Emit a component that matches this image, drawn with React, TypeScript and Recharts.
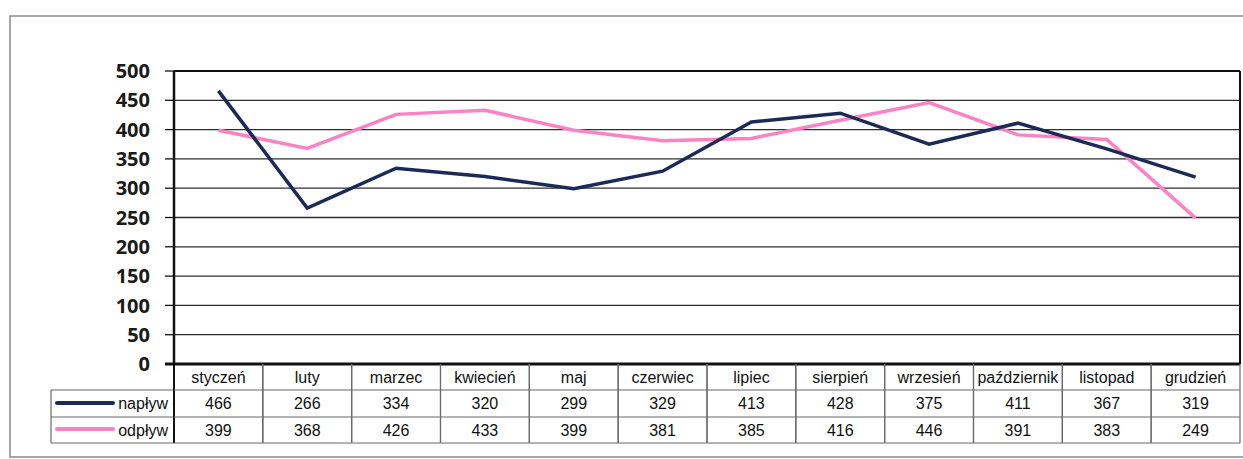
import React from "react";
import { LineChart, Line, XAxis, YAxis, CartesianGrid, Customized } from "recharts";

const months = [
  "styczeń", "luty", "marzec", "kwiecień", "maj", "czerwiec",
  "lipiec", "sierpień", "wrzesień", "październik", "listopad", "grudzień",
];
const naplyw = [466, 266, 334, 320, 299, 329, 413, 428, 375, 411, 367, 319];
const odplyw = [399, 368, 426, 433, 399, 381, 385, 416, 446, 391, 383, 249];
const yTicks = [0, 50, 100, 150, 200, 250, 300, 350, 400, 450, 500];

const NAVY = "#1c2a57";
const PINK = "#fb82c4";
const GRID = "#2e2e2e";
const TABLE_LINE = "#6a6a6a";

const W = 1243;
const H = 459;
const PLOT_LEFT = 174;
const PLOT_RIGHT = 1240;
const PLOT_TOP = 71;
const PLOT_BOTTOM = 364;
const ROW1 = 390;
const ROW2 = 417;
const ROW3 = 443;
const COL_W = (PLOT_RIGHT - PLOT_LEFT) / months.length;
const Y_AXIS_W = 60;
const X_AXIS_H = 80;

const data = months.map((m, i) => ({ month: m, naplyw: naplyw[i], odplyw: odplyw[i] }));

const TABLE_FONT = "'Liberation Sans', Arial, sans-serif";

// one column of the data table, placed by the x axis scale
const TableColumn = (props: any) => {
  const { x, payload } = props;
  const i = months.indexOf(payload.value);
  const l = x - COL_W / 2;
  const r = x + COL_W / 2;
  const txt = { fontFamily: TABLE_FONT, fontSize: 16, fill: "#111", textAnchor: "middle" as const };
  return (
    <g>
      <line x1={l} y1={PLOT_BOTTOM} x2={l} y2={ROW3} stroke={i === 0 ? "#111" : TABLE_LINE} strokeWidth={i === 0 ? 2 : 1.2} />
      <line x1={r} y1={PLOT_BOTTOM} x2={r} y2={ROW3} stroke={TABLE_LINE} strokeWidth={1.2} />
      <line x1={l} y1={ROW1} x2={r} y2={ROW1} stroke={TABLE_LINE} strokeWidth={1.2} />
      <line x1={l} y1={ROW2} x2={r} y2={ROW2} stroke={TABLE_LINE} strokeWidth={1.2} />
      <line x1={l} y1={ROW3} x2={r} y2={ROW3} stroke={TABLE_LINE} strokeWidth={1.2} />
      <text x={x} y={383} {...txt}>{payload.value}</text>
      <text x={x} y={409} {...txt}>{naplyw[i]}</text>
      <text x={x} y={436} {...txt}>{odplyw[i]}</text>
    </g>
  );
};

const Frame = () => {
  const txt = { fontFamily: TABLE_FONT, fontSize: 16, fill: "#111", textAnchor: "end" as const };
  return (
    <g>
      {/* outer chart border */}
      <rect x={10} y={16} width={1240} height={441} fill="none" stroke="#8a8a8a" strokeWidth={1.5} />
      {/* plot area border */}
      <line x1={PLOT_LEFT} y1={PLOT_TOP} x2={PLOT_RIGHT} y2={PLOT_TOP} stroke="#111" strokeWidth={2} />
      <line x1={PLOT_RIGHT} y1={PLOT_TOP} x2={PLOT_RIGHT} y2={PLOT_BOTTOM} stroke="#111" strokeWidth={2} />
      <line x1={PLOT_LEFT} y1={PLOT_TOP} x2={PLOT_LEFT} y2={PLOT_BOTTOM} stroke="#111" strokeWidth={2.5} />
      <line x1={PLOT_LEFT - 9} y1={PLOT_BOTTOM} x2={PLOT_RIGHT} y2={PLOT_BOTTOM} stroke="#111" strokeWidth={3} />
      {/* legend cells */}
      <line x1={51} y1={ROW1} x2={PLOT_LEFT} y2={ROW1} stroke={TABLE_LINE} strokeWidth={1.2} />
      <line x1={51} y1={ROW2} x2={PLOT_LEFT} y2={ROW2} stroke={TABLE_LINE} strokeWidth={1.2} />
      <line x1={51} y1={ROW3} x2={PLOT_LEFT} y2={ROW3} stroke={TABLE_LINE} strokeWidth={1.2} />
      <line x1={51} y1={ROW1} x2={51} y2={ROW3} stroke={TABLE_LINE} strokeWidth={1.2} />
      <line x1={57} y1={403} x2={113} y2={403} stroke={NAVY} strokeWidth={4} strokeLinecap="round" />
      <line x1={57} y1={429} x2={113} y2={429} stroke={PINK} strokeWidth={4} strokeLinecap="round" />
      <text x={168} y={409} {...txt}>napływ</text>
      <text x={168} y={436} {...txt}>odpływ</text>
    </g>
  );
};

export default function App() {
  return (
    <div style={{ position: "absolute", left: 0, top: 0, width: W, height: H, background: "#fff" }}>
      <LineChart
        width={W}
        height={H}
        data={data}
        margin={{ top: PLOT_TOP, right: W - PLOT_RIGHT, left: PLOT_LEFT - Y_AXIS_W, bottom: H - PLOT_BOTTOM - X_AXIS_H }}
      >
        <CartesianGrid vertical={false} stroke={GRID} strokeWidth={1.3} />
        <XAxis
          dataKey="month"
          interval={0}
          height={X_AXIS_H}
          axisLine={false}
          tickLine={false}
          padding={{ left: COL_W / 2, right: COL_W / 2 }}
          tick={<TableColumn />}
        />
        <YAxis
          width={Y_AXIS_W}
          domain={[0, 500]}
          ticks={yTicks}
          interval={0}
          axisLine={false}
          tickSize={9}
          tickMargin={15}
          tickLine={{ stroke: "#111", strokeWidth: 1.3 }}
          tick={{ fontFamily: "'Open Sans', sans-serif", fontWeight: 700, fontSize: 20, fill: "#1a1a1a" }}
        />
        <Customized component={<Frame />} />
        <Line type="linear" dataKey="odplyw" stroke={PINK} strokeWidth={3.5} dot={false} isAnimationActive={false} />
        <Line type="linear" dataKey="naplyw" stroke={NAVY} strokeWidth={3.5} dot={false} isAnimationActive={false} />
      </LineChart>
    </div>
  );
}
